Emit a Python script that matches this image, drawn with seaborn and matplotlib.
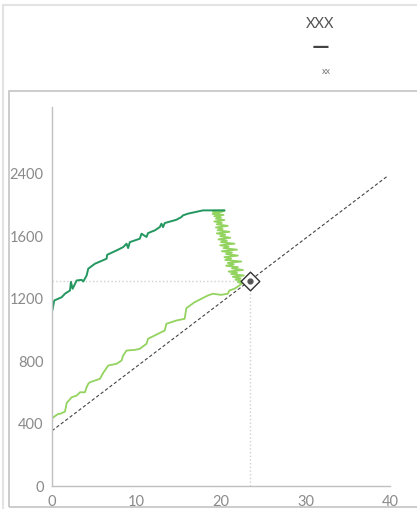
import numpy as np
import pandas as pd
import seaborn as sns
import matplotlib.pyplot as plt
from matplotlib.patches import Rectangle

sns.set_style("white")
plt.rcParams["font.family"] = ["Lato", "DejaVu Sans"]

# dark green series (x, y)
dark_x = [0.04, 0.27, 1.15, 1.53, 2.13, 2.24, 2.44, 2.92, 3.51, 3.70, 4.10, 4.29, 5.08,
          6.46, 6.53, 7.64, 8.42, 8.82, 9.01, 9.21, 10.39, 10.59, 11.18, 11.37, 12.16,
          12.75, 12.95, 13.14, 13.34, 14.72, 15.31, 15.50, 16.09, 17.86, 20.42]
dark_y = [1119, 1183, 1204, 1226, 1247, 1302, 1258, 1311, 1315, 1304, 1343, 1386, 1418,
          1450, 1475, 1503, 1524, 1546, 1518, 1556, 1578, 1610, 1589, 1614, 1631,
          1652, 1674, 1652, 1678, 1699, 1716, 1727, 1738, 1759, 1759]

# light green series: rising part, then the jagged part going back up
light_x = [0.0, 0.15, 0.74, 0.94, 1.53, 1.74, 2.33, 2.92, 3.31, 3.90, 4.10, 4.29, 4.49,
           5.08, 5.67, 6.06, 6.65, 7.64, 8.23, 8.42, 8.82, 9.80, 10.39, 11.18, 11.37,
           12.55, 13.34, 13.54, 14.72, 15.70, 15.90, 16.88, 18.45, 19.04, 20.0, 20.8,
           21.0, 21.6, 22.2,
           22.5, 22.0, 22.6, 21.7, 22.3, 21.4, 22.7, 21.2, 21.9, 20.9, 22.6, 21.3, 22.0,
           20.6, 21.5, 20.8, 22.4, 20.5, 21.2, 20.4, 22.0, 20.6, 21.3, 20.1, 21.9, 20.3,
           20.9, 19.9, 21.6, 20.0, 20.7, 19.7, 21.1, 19.9, 20.5, 19.5, 21.0, 19.6, 20.2,
           19.4, 20.8, 19.5, 20.1, 19.2, 20.4, 19.4, 20.0, 19.2, 20.3, 19.0, 19.8, 19.1,
           20.2, 19.0, 20.4, 19.1]
light_y = [426, 436, 458, 458, 472, 528, 564, 575, 596, 596, 628, 650, 660,
           671, 682, 720, 767, 778, 799, 831, 863, 867, 874, 906, 938,
           970, 991, 1034, 1055, 1066, 1134, 1172, 1215, 1226, 1219, 1226,
           1247, 1258, 1280,
           1292, 1300, 1308, 1316, 1325, 1334, 1343, 1352, 1360, 1368, 1378, 1388, 1396,
           1405, 1414, 1423, 1432, 1442, 1451, 1460, 1470, 1480, 1489, 1498, 1508, 1518,
           1527, 1536, 1546, 1556, 1565, 1574, 1584, 1594, 1603, 1612, 1622, 1632, 1641,
           1650, 1660, 1670, 1679, 1688, 1697, 1706, 1714, 1722, 1730, 1737, 1743, 1748,
           1752, 1755, 1757, 1758]

# reference line and marked point
ref_x = [0, 39.7]
ref_y = [350, 1978]
point_x = 23.4
point_y = 1310

xticks = [0, 10, 20, 30, 40]
yticks = [0, 400, 800, 1200, 1600, 2000]
ytick_labels = ["0", "400", "800", "1200", "1600", "2400"]

dark_df = pd.DataFrame({"x": dark_x, "y": dark_y})
light_df = pd.DataFrame({"x": light_x, "y": light_y})

fig = plt.figure(figsize=(4.17, 5.10), dpi=100)

# panel frames
fig.patches.append(Rectangle((2.5 / 417, -0.1), 1.2, 1.1 - 5.5 / 510, transform=fig.transFigure,
                             fill=False, edgecolor="#e3e3e3", linewidth=1.5))
fig.patches.append(Rectangle((8.5 / 417, 2 / 510), 1.2, 1 - 94 / 510, transform=fig.transFigure,
                             fill=False, edgecolor="#c4c4c4", linewidth=1.2))

ax = fig.add_axes([52 / 417, 23.5 / 510, 338 / 417, 378.5 / 510])

ax.plot(ref_x, ref_y, color="#444444", linestyle=(0, (3, 2)), linewidth=0.8)
ax.plot([0, point_x], [point_y, point_y], color="#d0d0d0", linestyle=":", linewidth=1)
ax.plot([point_x, point_x], [0, point_y], color="#d0d0d0", linestyle=":", linewidth=1)

sns.lineplot(data=light_df, x="x", y="y", sort=False, estimator=None, color="#93d35f",
             linewidth=1.3, ax=ax)
sns.lineplot(data=dark_df, x="x", y="y", sort=False, estimator=None, color="#23975f",
             linewidth=1.4, ax=ax)

ax.scatter([point_x], [point_y], marker="D", s=90, facecolor="white", edgecolor="#333333",
           linewidth=1.0, zorder=5)
ax.scatter([point_x], [point_y], marker="o", s=12, color="#555555", zorder=6)

ax.set_xlim(0, 40)
ax.set_ylim(0, 2420)
ax.set_xticks(xticks)
ax.set_yticks(yticks)
ax.set_yticklabels(ytick_labels)
ax.set_xlabel("")
ax.set_ylabel("")
for side in ["top", "right"]:
    ax.spines[side].set_visible(False)
for side in ["left", "bottom"]:
    ax.spines[side].set_color("#c0c0c0")
    ax.spines[side].set_linewidth(1)
ax.tick_params(axis="both", colors="#c0c0c0", labelcolor="#8a8a8a", labelsize=10.5,
               length=4, width=1, direction="out", pad=2)
ax.patch.set_alpha(0)

fig.text(320 / 417, 1 - 24 / 510, "XXX", ha="center", va="center", fontsize=10.5, color="#555555")
fig.text(321 / 417, 1 - 48 / 510, "—", ha="center", va="center", fontsize=16, color="#444444",
         fontweight="bold")
fig.text(326 / 417, 1 - 72 / 510, "xx", ha="center", va="center", fontsize=6.5, color="#777777")

fig.savefig("out.png", dpi=100)
